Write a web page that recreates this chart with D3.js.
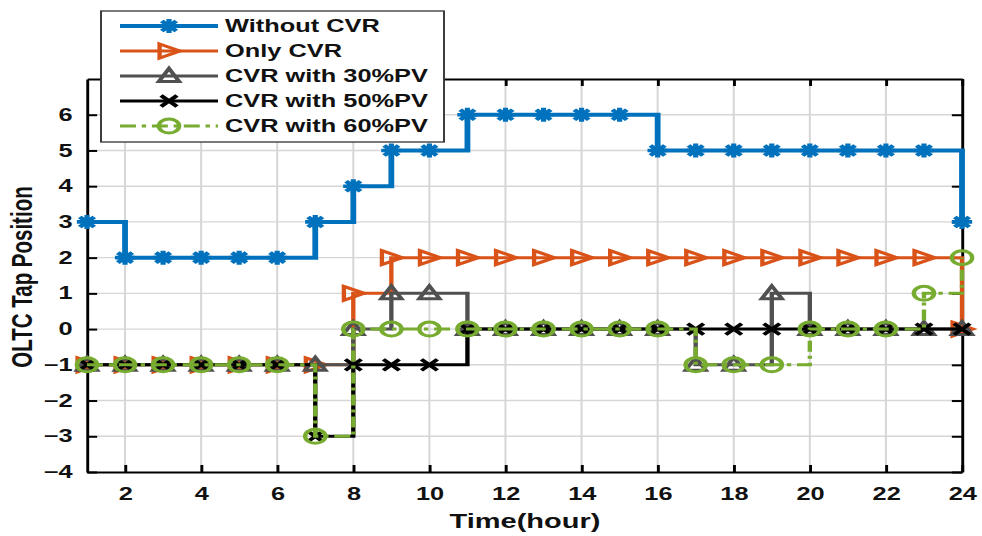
<!DOCTYPE html>
<html>
<head>
<meta charset="utf-8">
<script src="https://cdn.jsdelivr.net/npm/d3@7"></script>
<style>
  body { margin: 0; background: #fff; }
  text { font-family: "Liberation Sans", Arial, sans-serif; font-weight: bold; }
</style>
</head>
<body>
<div id="chart"></div>
<script>
// tap positions, hour 1..24
const hours = [1,2,3,4,5,6,7,8,9,10,11,12,13,14,15,16,17,18,19,20,21,22,23,24]
const withoutCVR = [3,2,2,2,2,2,3,4,5,5,6,6,6,6,6,5,5,5,5,5,5,5,5,3]
const onlyCVR    = [-1,-1,-1,-1,-1,-1,-1,1,2,2,2,2,2,2,2,2,2,2,2,2,2,2,2,0]
const cvrPV30    = [-1,-1,-1,-1,-1,-1,-1,0,1,1,0,0,0,0,0,0,-1,-1,1,0,0,0,0,0]
const cvrPV50    = [-1,-1,-1,-1,-1,-1,-3,-1,-1,-1,0,0,0,0,0,0,0,0,0,0,0,0,0,0]
const cvrPV60    = [-1,-1,-1,-1,-1,-1,-3,0,0,0,0,0,0,0,0,0,-1,-1,-1,0,0,0,1,2]

const seriesNames = ['Without CVR','Only CVR','CVR with 30%PV','CVR with 50%PV','CVR with 60%PV']
const xTicks = [2,4,6,8,10,12,14,16,18,20,22,24]
const yTicks = [-4,-3,-2,-1,0,1,2,3,4,5,6]

const width = 982
const height = 536
// the original figure is stretched sideways, so draw in squeezed units and scale back
const S = 1.45

const svg = d3.select('#chart').append('svg').attr('width', width).attr('height', height)
const g = svg.append('g').attr('transform', `scale(${S},1)`)

const xscale = d3.scaleLinear().domain([1,24]).range([87/S, 962/S])
const yscale = d3.scaleLinear().domain([-4,7]).range([472, 79])
const x0 = xscale.range()[0], x1 = xscale.range()[1]
const y0 = yscale.range()[0], y1 = yscale.range()[1]

// grid
g.append('g').selectAll('line').data(xTicks.filter(t => t < 24)).join('line')
  .attr('x1', d => xscale(d)).attr('x2', d => xscale(d))
  .attr('y1', y0).attr('y2', y1)
  .attr('stroke', '#d6d6d6').attr('stroke-width', 1.4)
g.append('g').selectAll('line').data(yTicks.filter(t => t > -4)).join('line')
  .attr('x1', x0).attr('x2', x1)
  .attr('y1', d => yscale(d)).attr('y2', d => yscale(d))
  .attr('stroke', '#d6d6d6').attr('stroke-width', 1.4)

// axes (ticks pointing in, box on)
const styleAxis = sel => {
  sel.selectAll('.domain').attr('stroke', '#000').attr('stroke-width', 2)
  sel.selectAll('.tick line').attr('stroke', '#000').attr('stroke-width', 2)
  sel.selectAll('text').attr('font-size', 17.5).attr('fill', '#111')
}
g.append('g').attr('transform', `translate(0,${y0})`)
  .call(d3.axisBottom(xscale).tickValues(xTicks).tickSize(-7).tickSizeOuter(0).tickPadding(16))
  .call(styleAxis)
g.append('g').attr('transform', `translate(0,${y1})`)
  .call(d3.axisTop(xscale).tickValues(xTicks).tickSize(-7).tickSizeOuter(0).tickFormat(''))
  .call(styleAxis)
g.append('g').attr('transform', `translate(${x0},0)`)
  .call(d3.axisLeft(yscale).tickValues(yTicks).tickSize(-7).tickSizeOuter(0).tickPadding(10))
  .call(styleAxis)
g.append('g').attr('transform', `translate(${x1},0)`)
  .call(d3.axisRight(yscale).tickValues(yTicks).tickSize(-7).tickSizeOuter(0).tickFormat(''))
  .call(styleAxis)

// axis titles
g.append('text').attr('x', 525/S).attr('y', 528).attr('text-anchor', 'middle')
  .attr('font-size', 20).attr('fill', '#111').text('Time(hour)')
g.append('text').attr('transform', `translate(${32/S},277) rotate(-90)`).attr('text-anchor', 'middle')
  .attr('font-size', 20.5).attr('fill', '#111').text('OLTC Tap Position')

// marker shapes
const markerPath = {
  star: 'M-7,0H7M0,-7V7M-5,-5L5,5M-5,5L5,-5',
  tri: 'M-6.5,-7L7.5,0L-6.5,7Z',
  up: 'M0,-7.5L7,5.5L-7,5.5Z',
  cross: 'M-5.5,-5.5L5.5,5.5M-5.5,5.5L5.5,-5.5',
  circle: 'M-7,0A7,7 0 1,0 7,0A7,7 0 1,0 -7,0Z'
}

const series = [
  {name: seriesNames[0], values: withoutCVR, color: '#0072BD', lw: 4, marker: 'star', mlw: 3.6, dash: null},
  {name: seriesNames[1], values: onlyCVR, color: '#D95319', lw: 3, marker: 'tri', mlw: 3, dash: null},
  {name: seriesNames[2], values: cvrPV30, color: '#505050', lw: 3, marker: 'up', mlw: 3, dash: null},
  {name: seriesNames[3], values: cvrPV50, color: '#000000', lw: 3, marker: 'cross', mlw: 3.2, dash: null},
  {name: seriesNames[4], values: cvrPV60, color: '#77AC30', lw: 3, marker: 'circle', mlw: 3, dash: '11,4,3,4'}
]

const line = d3.line()
  .x(d => xscale(d.h))
  .y(d => yscale(d.v))
  .curve(d3.curveStepAfter)

series.forEach(s => {
  const pts = hours.map((h,i) => ({h: h, v: s.values[i]}))
  g.append('path').datum(pts)
    .attr('d', line)
    .attr('fill', 'none')
    .attr('stroke', s.color)
    .attr('stroke-width', s.lw)
    .attr('stroke-dasharray', s.dash)
  g.append('g').selectAll('path').data(pts).join('path')
    .attr('transform', d => `translate(${xscale(d.h)},${yscale(d.v)})`)
    .attr('d', markerPath[s.marker])
    .attr('fill', 'none')
    .attr('stroke', s.color)
    .attr('stroke-width', s.mlw)
})

// legend
const legend = g.append('g')
legend.append('rect')
  .attr('x', 101/S).attr('y', 11)
  .attr('width', (444-101)/S).attr('height', 131)
  .attr('fill', '#fff').attr('stroke', '#333').attr('stroke-width', 1.3)
series.forEach((s,i) => {
  const ly = 26 + i*25
  legend.append('line')
    .attr('x1', 120/S).attr('x2', 218/S).attr('y1', ly).attr('y2', ly)
    .attr('stroke', s.color).attr('stroke-width', s.lw)
    .attr('stroke-dasharray', s.dash)
  legend.append('path')
    .attr('transform', `translate(${169/S},${ly})`)
    .attr('d', markerPath[s.marker])
    .attr('fill', 'none').attr('stroke', s.color).attr('stroke-width', s.mlw)
  legend.append('text')
    .attr('x', 225/S).attr('y', ly + 6.3)
    .attr('font-size', 17.5).attr('fill', '#111')
    .text(s.name)
})
</script>
</body>
</html>
